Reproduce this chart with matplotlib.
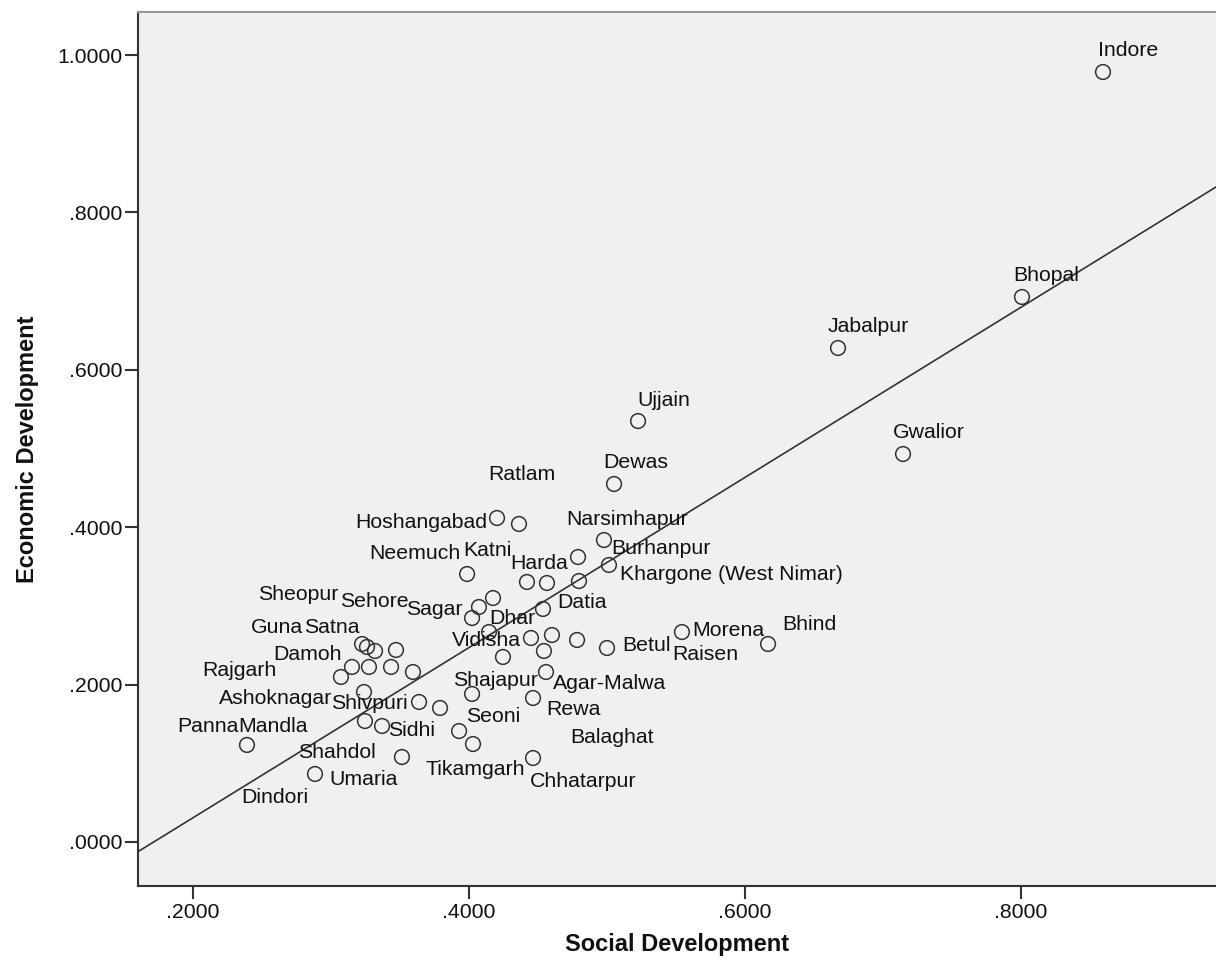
import numpy as np
import matplotlib
matplotlib.use("Agg")
import matplotlib.pyplot as plt

plt.rcParams['font.family'] = ['Liberation Sans', 'DejaVu Sans']

# ---------------- data ----------------
districts = ["Indore", "Bhopal", "Jabalpur", "Gwalior", "Ujjain", "Dewas",
             "Hoshangabad", "Ratlam", "Burhanpur", "Narsimhapur", "Khargone (West Nimar)",
             "Neemuch", "Katni", "Harda", "", "Dhar", "Sagar", "Vidisha", "Datia",
             "", "", "", "Raisen", "Betul", "Agar-Malwa", "Morena", "Bhind", "Shajapur",
             "Satna", "Guna", "Sehore", "Sheopur", "Damoh", "Rajgarh", "Mandla", "", "",
             "Rewa", "Ashoknagar", "Shivpuri", "", "Seoni", "Balaghat", "Shahdol", "Sidhi",
             "", "Tikamgarh", "Panna", "Umaria", "Chhatarpur", "Dindori"]

social = [0.8594, 0.8007, 0.6674, 0.7145, 0.5225, 0.5051,
          0.4203, 0.4362, 0.4978, 0.4790, 0.5014,
          0.3986, 0.4420, 0.4565, 0.4797, 0.4174, 0.4072, 0.4022, 0.4536,
          0.4145, 0.4449, 0.4601, 0.4783, 0.5000, 0.4543, 0.5543, 0.6167, 0.4246,
          0.3225, 0.3261, 0.3319, 0.3471, 0.3152, 0.3072, 0.3275, 0.3435, 0.3594,
          0.4558, 0.3239, 0.3638, 0.3790, 0.4022, 0.4464, 0.3246, 0.3370,
          0.3928, 0.4029, 0.2391, 0.3514, 0.4464, 0.2884]

economic = [0.9784, 0.6925, 0.6277, 0.4930, 0.5349, 0.4549,
            0.4117, 0.4041, 0.3837, 0.3621, 0.3520,
            0.3405, 0.3304, 0.3291, 0.3316, 0.3100, 0.2986, 0.2846, 0.2961,
            0.2668, 0.2592, 0.2630, 0.2567, 0.2465, 0.2427, 0.2668, 0.2516, 0.2351,
            0.2516, 0.2478, 0.2427, 0.2440, 0.2224, 0.2097, 0.2224, 0.2224, 0.2160,
            0.2160, 0.1906, 0.1779, 0.1703, 0.1881, 0.1830, 0.1537, 0.1474,
            0.1410, 0.1245, 0.1233, 0.1080, 0.1067, 0.0864]

x_ticks = [0.2, 0.4, 0.6, 0.8]
y_ticks = [0.0, 0.2, 0.4, 0.6, 0.8, 1.0]

# label placement: pixel offset of label anchor from the point (dx, dy down), alignment
label_pos = {
    "Indore": (-5, -24, "left"), "Bhopal": (-9, -24, "left"),
    "Jabalpur": (-10, -24, "left"), "Gwalior": (-10, -24, "left"),
    "Ujjain": (-1, -23, "left"), "Dewas": (-11, -23, "left"),
    "Hoshangabad": (-10, 3, "right"), "Ratlam": (-31, -51, "left"),
    "Burhanpur": (7, 6, "left"), "Narsimhapur": (-12, -40, "left"),
    "Khargone (West Nimar)": (11, 8, "left"), "Neemuch": (-7, -23, "right"),
    "Katni": (-64, -33, "left"), "Harda": (21, -21, "right"),
    "Dhar": (-4, 18, "left"), "Sagar": (-16, 0, "right"),
    "Vidisha": (-20, 20, "left"), "Datia": (14, -8, "left"),
    "Raisen": (95, 13, "left"), "Betul": (15, -5, "left"),
    "Agar-Malwa": (9, 31, "left"), "Morena": (10, -4, "left"),
    "Bhind": (14, -21, "left"), "Shajapur": (-50, 22, "left"),
    "Satna": (-58, -18, "left"), "Guna": (-64, -21, "right"),
    "Sehore": (-35, -51, "left"), "Sheopur": (-58, -57, "right"),
    "Damoh": (-10, -14, "right"), "Rajgarh": (-64, -8, "right"),
    "Mandla": (-61, 58, "right"), "Rewa": (0, 35, "left"),
    "Ashoknagar": (-32, 5, "right"), "Shivpuri": (-11, 0, "right"),
    "Seoni": (-6, 21, "left"), "Balaghat": (37, 38, "left"),
    "Shahdol": (-67, 29, "left"), "Sidhi": (6, 3, "left"),
    "Tikamgarh": (-48, 23, "left"), "Panna": (-8, -20, "right"),
    "Umaria": (-73, 20, "left"), "Chhatarpur": (-3, 21, "left"),
    "Dindori": (-74, 21, "left"),
}

W, H = 1216, 973
fig = plt.figure(figsize=(W / 100, H / 100), dpi=100)
ax = fig.add_axes([138 / W, (H - 886) / H, (W - 138) / W, (886 - 12) / H])
ax.set_facecolor('#f0f0f0')

ax.set_xlim(0.16014, 0.94130)
ax.set_ylim(-0.05591, 1.05464)

# fit line
b, a = np.polyfit(social, economic, 1)
xs = np.array(ax.get_xlim())
ax.plot(xs, a + b * xs, color='#333333', lw=1.2, zorder=2)

ax.scatter(social, economic, s=112, facecolors='none', edgecolors='#333333',
           linewidths=1.1, zorder=3)

px = 0.72  # points per pixel at 100 dpi
for name, x, y in zip(districts, social, economic):
    if not name:
        continue
    dx, dy, ha = label_pos[name]
    ax.annotate(name, (x, y), xytext=(dx * px, -(dy + 7.5) * px),
                textcoords='offset points', ha=ha, va='baseline',
                fontsize=15.3, color='#111111', zorder=4)

fmt = lambda v: ('%.4f' % v).replace('0.', '.', 1) if v < 1 else '%.4f' % v
ax.set_xticks(x_ticks)
ax.set_xticklabels([fmt(v) for v in x_ticks])
ax.set_yticks(y_ticks)
ax.set_yticklabels([fmt(v) for v in y_ticks])
ax.tick_params(axis='both', direction='out', length=9.5, width=1.5,
               color='#333333', labelsize=15.3, labelcolor='#111111')
ax.tick_params(axis='x', pad=2.5)
ax.tick_params(axis='y', pad=1.5)

for s in ['left', 'bottom']:
    ax.spines[s].set_color('#333333')
    ax.spines[s].set_linewidth(1.5)
ax.spines['top'].set_color('#999999')
ax.spines['top'].set_linewidth(1.5)
ax.spines['right'].set_visible(False)

fig.text(677 / W, 1 - 945 / H, 'Social Development', ha='center', va='center',
         fontsize=17, fontweight='bold', color='#111111')
fig.text(28 / W, 1 - 449 / H, 'Economic Development', ha='center', va='center',
         rotation=90, fontsize=17, fontweight='bold', color='#111111')

fig.savefig('out.png', dpi=100)
